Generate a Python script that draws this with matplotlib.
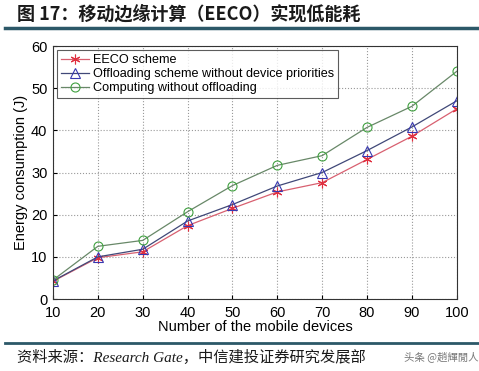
import matplotlib
matplotlib.use("Agg")
import matplotlib.pyplot as plt
from matplotlib.lines import Line2D

plt.rcParams['font.family'] = ['Liberation Sans', 'Noto Sans CJK SC', 'DejaVu Sans']

devices = [10, 20, 30, 40, 50, 60, 70, 80, 90, 100]
eeco = [4.2, 9.8, 11.2, 17.4, 21.5, 25.4, 27.6, 33.1, 38.6, 45.1]
offload_no_prio = [4.3, 10.0, 11.8, 18.5, 22.4, 26.8, 30.0, 35.2, 40.8, 47.0]
no_offload = [4.5, 12.5, 13.9, 20.7, 26.9, 31.7, 34.0, 40.7, 45.7, 54.0]
labels = ["EECO scheme", "Offloading scheme without device priorities", "Computing without offloading"]
xticks = [10, 20, 30, 40, 50, 60, 70, 80, 90, 100]
yticks = [0, 10, 20, 30, 40, 50, 60]

title = "图 17：移动边缘计算（EECO）实现低能耗"
source = "资料来源：Research Gate，中信建投证券研究发展部"
watermark = "头条 @趙輝閒人"

fig = plt.figure(figsize=(4.79, 3.71), dpi=100)
fig.patch.set_facecolor('white')

ax = fig.add_axes([0.1106, 0.194, 0.843, 0.682])
ax.plot(devices, eeco, color='#d86070', lw=0.9, marker=(6, 2, 0), ms=7, mfc='none', mec='#e03040', mew=0.8, label=labels[0])
ax.plot(devices, offload_no_prio, color='#404878', lw=0.9, marker='^', ms=6.5, mfc='none', mec='#3838b0', mew=0.8, label=labels[1])
ax.plot(devices, no_offload, color='#688868', lw=0.9, marker='o', ms=6.5, mfc='none', mec='#40a040', mew=0.8, label=labels[2])

ax.set_xlim(10, 100)
ax.set_ylim(0, 60)
ax.set_xticks(xticks)
ax.set_yticks(yticks)
ax.grid(True, linestyle=':', color='#999999', lw=0.8)
ax.tick_params(axis='x', labelsize=10.5, direction='in', length=3, pad=5)
ax.tick_params(axis='y', labelsize=10.5, direction='in', length=3, pad=4)
for s in ax.spines.values():
    s.set_color('#333333')
    s.set_linewidth(0.8)
ax.set_xlabel("Number of the mobile devices", fontsize=10.5, labelpad=0)
ax.set_ylabel("Energy consumption (J)", fontsize=10.5, labelpad=2)

leg = ax.legend(loc='upper left', fontsize=9.1, frameon=True, fancybox=False,
                borderaxespad=0.3, handlelength=2.2, handletextpad=0.3,
                borderpad=0.35, labelspacing=0.15)
leg.get_frame().set_edgecolor('#333333')
leg.get_frame().set_linewidth(0.8)

# header and footer
fig.text(0.036, 0.962, title, fontsize=13, fontweight='bold', color='#1a1a1a',
         family=['Noto Sans CJK SC'], va='center', ha='left')
fig.add_artist(Line2D([0.01, 1.0], [0.924, 0.924], color='#2c5868', lw=2.5, transform=fig.transFigure))
fig.add_artist(Line2D([0.01, 1.0], [0.075, 0.075], color='#2c5868', lw=2.0, transform=fig.transFigure))
fig.text(0.036, 0.037, source, fontsize=11, style='italic', color='#1a1a1a',
         family=['Liberation Serif', 'Noto Sans CJK SC'], va='center', ha='left')
fig.text(0.998, 0.040, watermark, fontsize=7.5, color='#777777',
         family=['Noto Sans CJK TC', 'DejaVu Sans'], va='center', ha='right')

fig.savefig("out.png", dpi=100, facecolor='white')
